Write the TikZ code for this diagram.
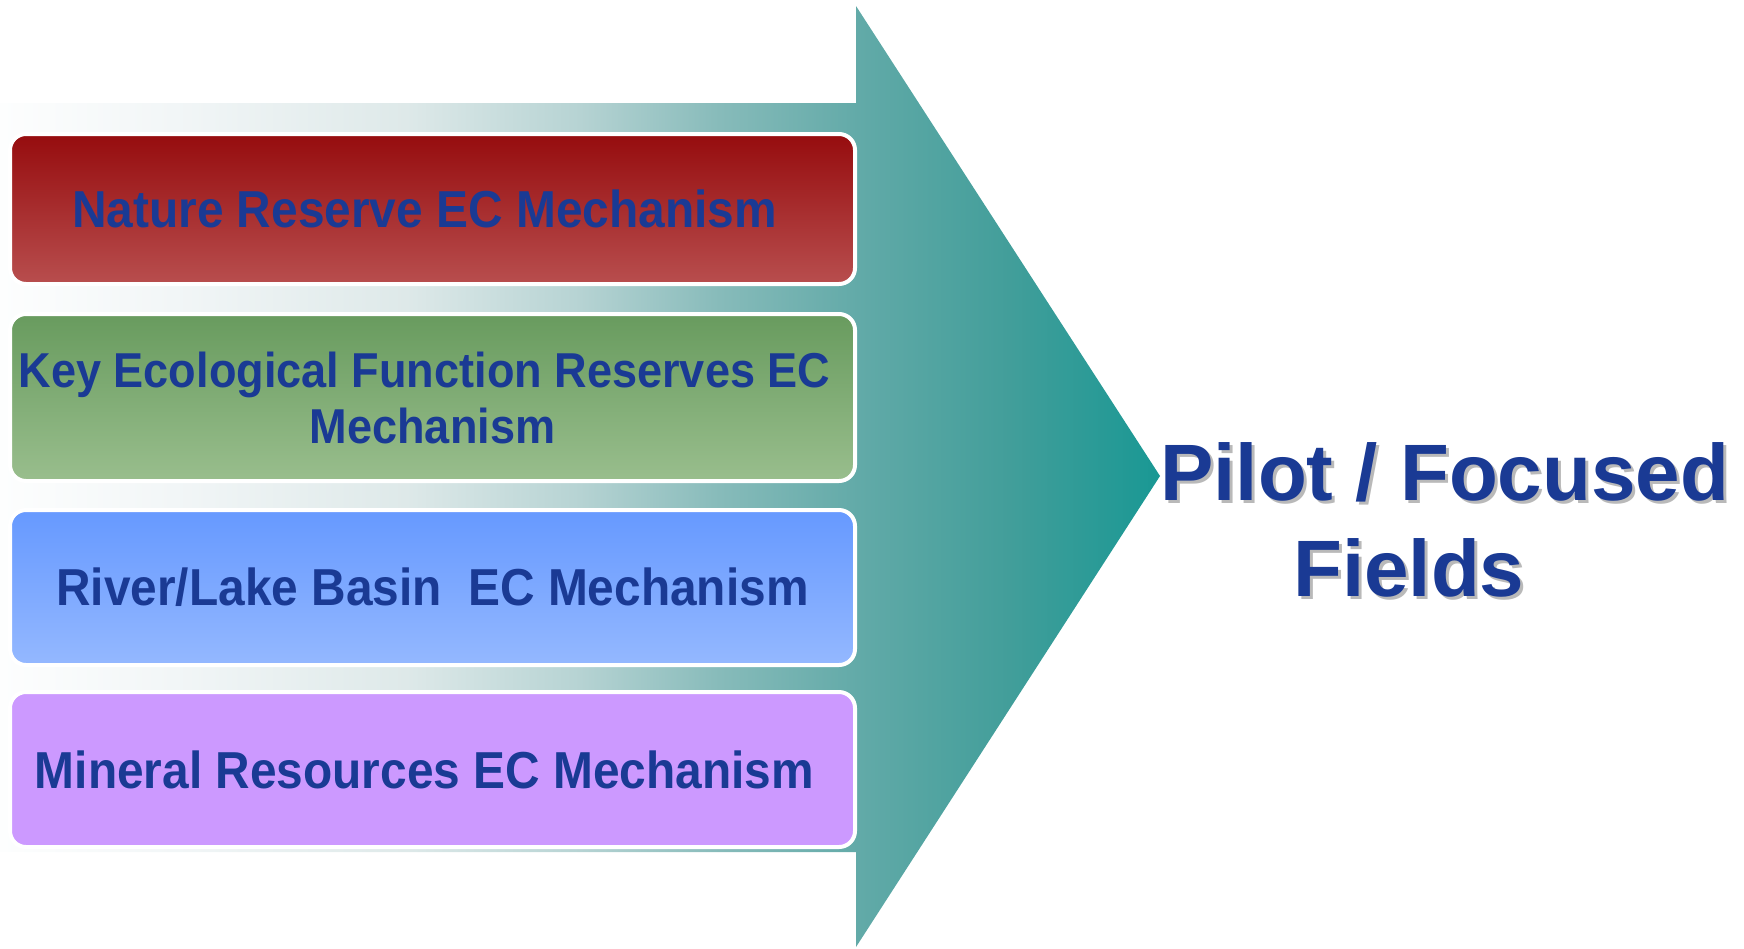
\documentclass[tikz,border=0pt]{standalone}
\usepackage{fontspec}
\setmainfont{Liberation Sans}
\newfontfamily\boxfont[FakeStretch=0.92]{Liberation Sans}

\definecolor{textblue}{RGB}{26,58,148}
\definecolor{natureTop}{RGB}{150,12,14}
\definecolor{natureBot}{RGB}{184,78,78}
\definecolor{keyTop}{RGB}{104,155,94}
\definecolor{keyBot}{RGB}{153,190,141}
\definecolor{riverTop}{RGB}{102,153,255}
\definecolor{riverBot}{RGB}{148,184,255}
\definecolor{mineral}{RGB}{204,153,255}
\definecolor{shadowgray}{RGB}{185,185,185}
% arrow colours, left to right
\definecolor{arrA}{RGB}{253,254,254}
\definecolor{arrB}{RGB}{242,246,247}
\definecolor{arrC}{RGB}{222,233,233}
\definecolor{arrD}{RGB}{182,211,211}
\definecolor{arrE}{RGB}{135,187,186}
\definecolor{arrF}{RGB}{98,170,168}
\definecolor{arrG}{RGB}{66,158,154}
\definecolor{arrH}{RGB}{25,152,148}
\pgfdeclarehorizontalshading{arrowshade}{100bp}{color(0bp)=(arrA); color(25bp)=(arrA);
  color(32.5bp)=(arrB); color(42.5bp)=(arrC); color(50bp)=(arrD); color(56bp)=(arrE);
  color(62bp)=(arrF); color(68.5bp)=(arrG); color(75bp)=(arrH); color(100bp)=(arrH)}

\tikzset{
  mechbox/.style={draw=white, line width=4pt, rounded corners=16pt, minimum width=845,
    text=textblue, align=center, inner sep=0pt},
  pilottext/.style={text=textblue, anchor=base west, inner sep=0pt,
    font=\fontsize{80}{96}\selectfont\bfseries},
}

\begin{document}
\begin{tikzpicture}[x=1pt, y=-1pt]
  % Define dimensions
  \def\ShaftTop{103}
  \def\ShaftBot{852}
  \def\HeadX{856}
  \def\TxtPad{\kern16pt}
  \useasboundingbox (0,0) rectangle (1744,948);

  % Define points
  \coordinate (A) at (0,\ShaftTop);
  \coordinate (B) at (\HeadX,\ShaftTop);
  \coordinate (C) at (\HeadX,6);
  \coordinate (T) at (1160,476);
  \coordinate (D) at (\HeadX,947);
  \coordinate (E) at (\HeadX,\ShaftBot);
  \coordinate (F) at (0,\ShaftBot);

  % Draw arrow
  \shade[shading=arrowshade] (A) -- (B) -- (C) -- (T) -- (D) -- (E) -- (F) -- cycle;

  % Draw boxes
  \node[mechbox, top color=natureTop, bottom color=natureBot, minimum height=150,
        font=\boxfont\fontsize{52}{60}\selectfont\bfseries]
        (nature) at (432.5,209) {Nature Reserve EC Mechanism\TxtPad};
  \node[mechbox, top color=keyTop, bottom color=keyBot, minimum height=167,
        font=\boxfont\fontsize{49}{56}\selectfont\bfseries]
        (keyfunc) at (432.5,397.5) {Key Ecological Function Reserves EC\TxtPad\\Mechanism};
  \node[mechbox, top color=riverTop, bottom color=riverBot, minimum height=155,
        font=\boxfont\fontsize{52}{60}\selectfont\bfseries]
        (river) at (432.5,587.5) {River/Lake Basin\ \ EC Mechanism};
  \node[mechbox, fill=mineral, minimum height=155,
        font=\boxfont\fontsize{52}{60}\selectfont\bfseries]
        (mineral) at (432.5,769.5) {Mineral Resources EC Mechanism\TxtPad};

  % Label fields
  \node[pilottext, text=shadowgray] (pilotshadow) at (1163,503) {Pilot / Focused};
  \node[pilottext, text=shadowgray] (fieldsshadow) at (1296,599) {Fields};
  \node[pilottext] (pilot) at (1160,500) {Pilot / Focused};
  \node[pilottext] (fields) at (1293,596) {Fields};

\end{tikzpicture}
\end{document}
